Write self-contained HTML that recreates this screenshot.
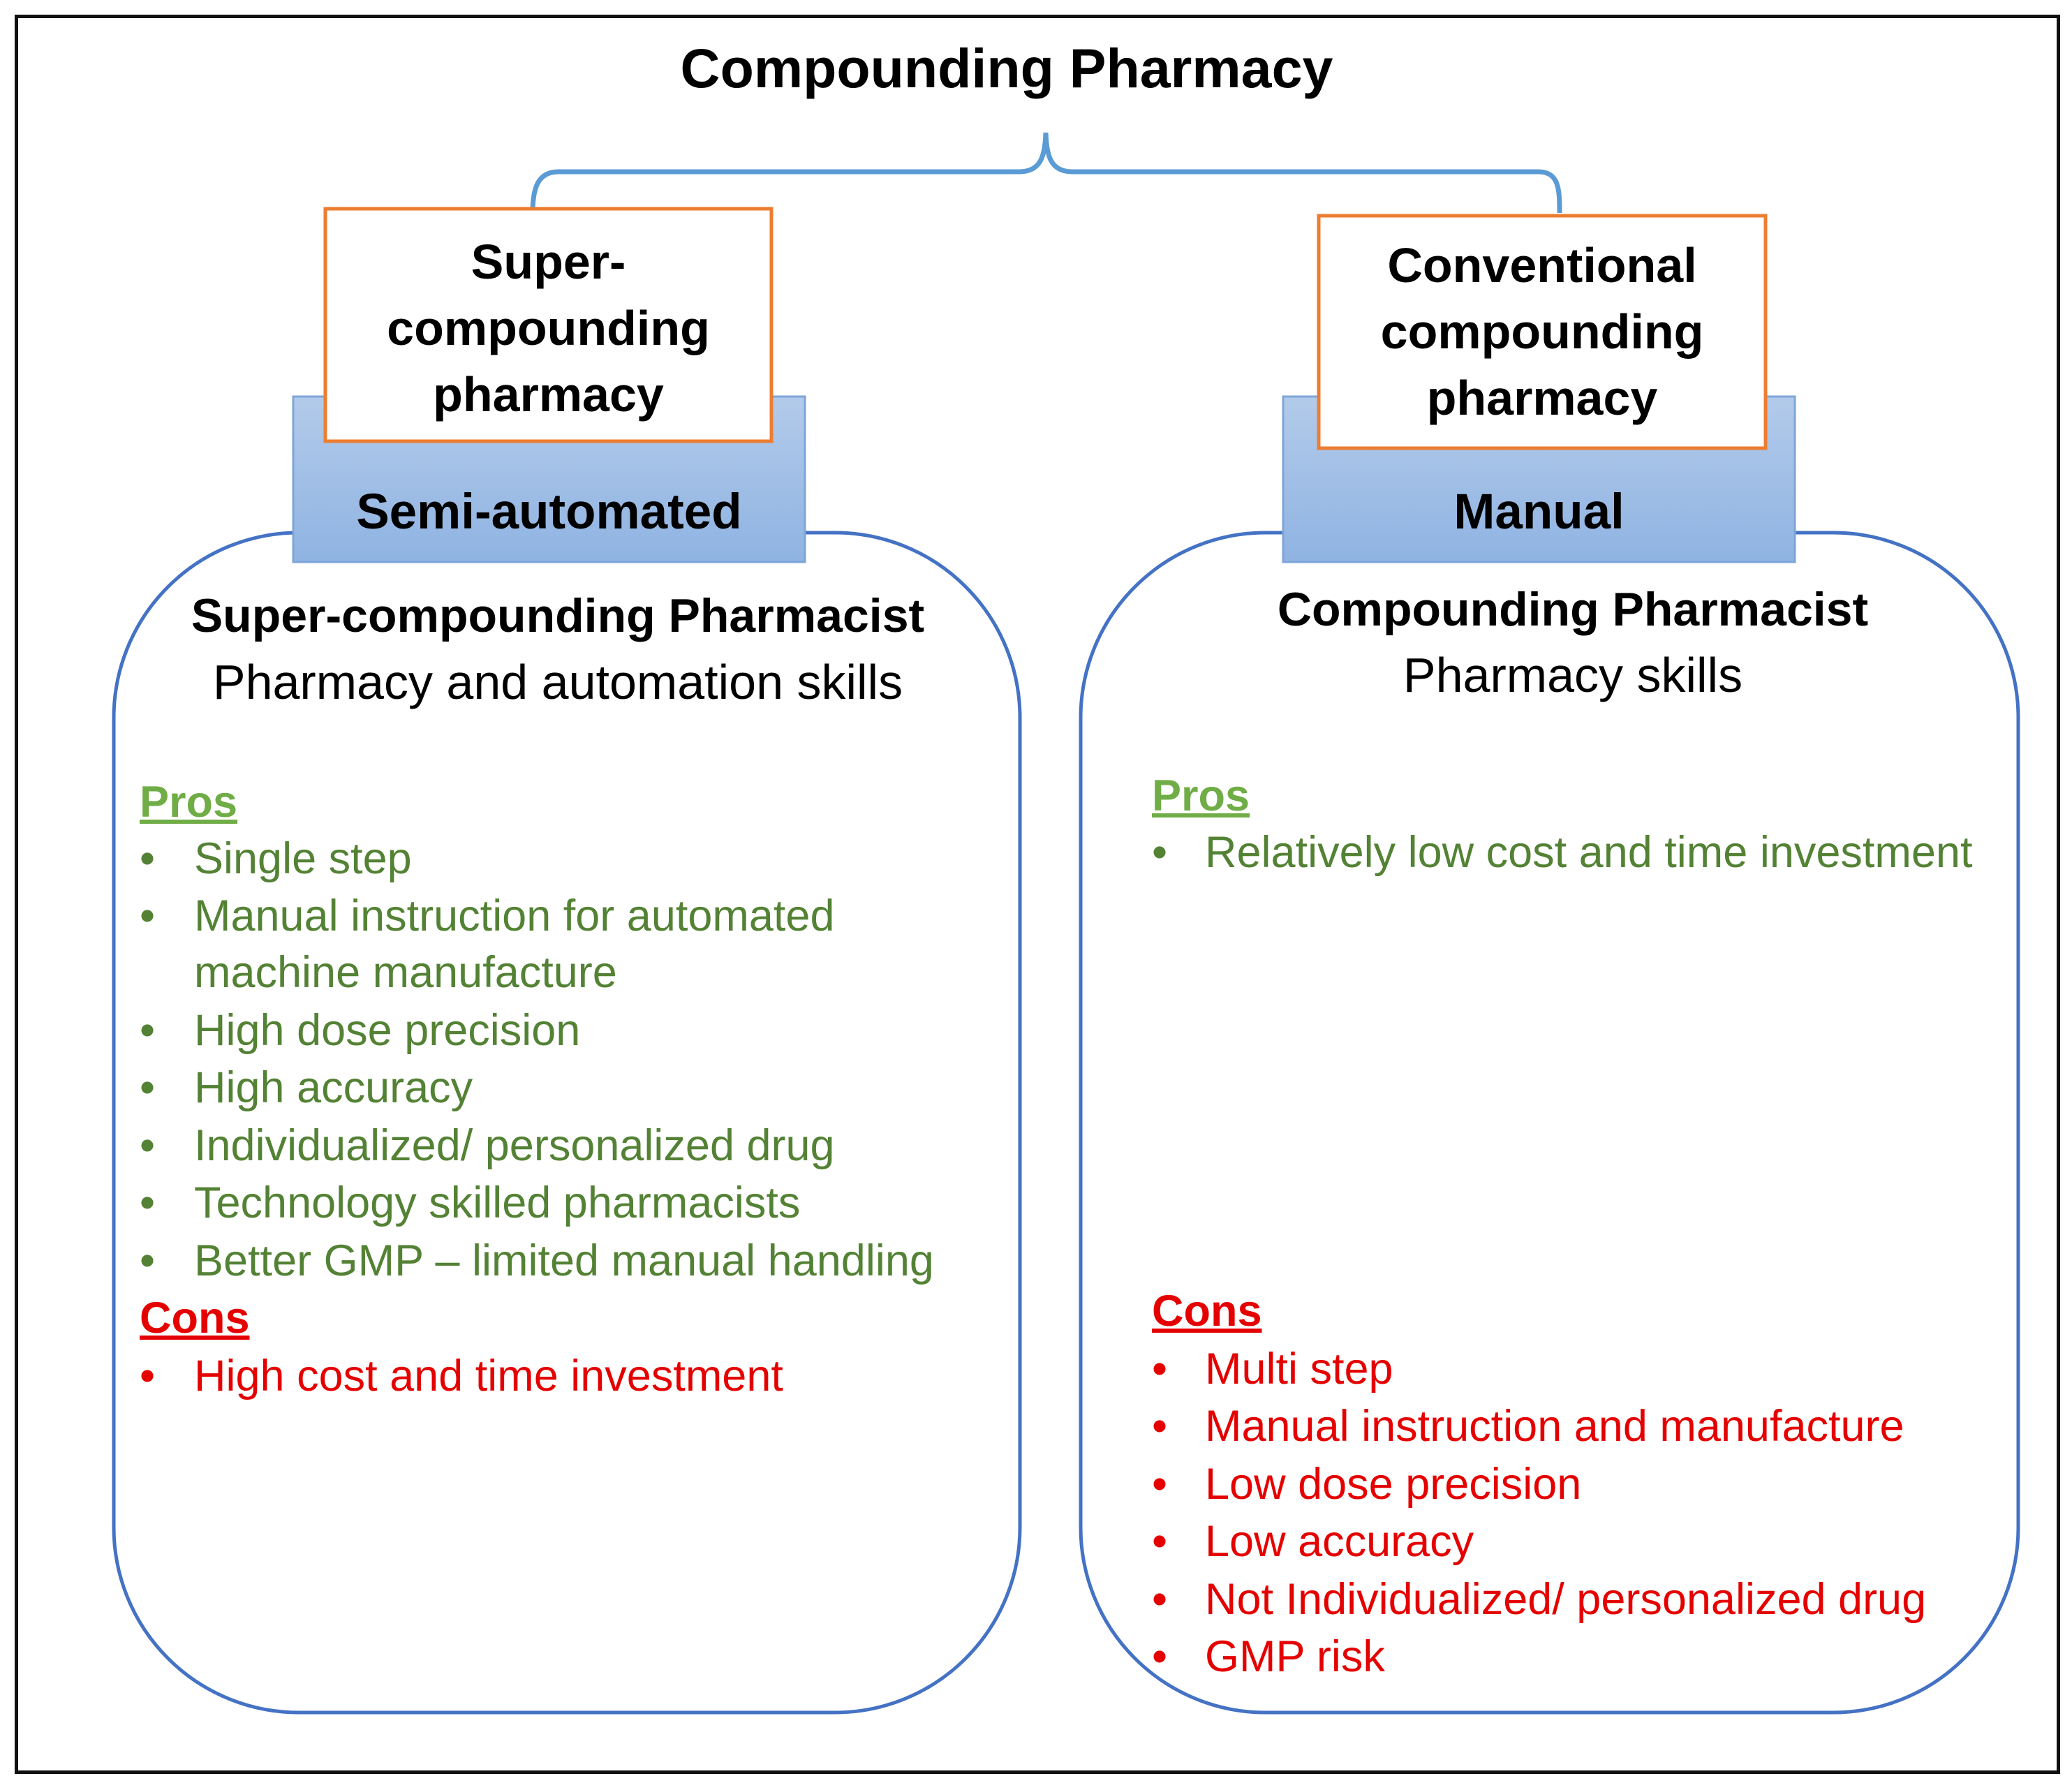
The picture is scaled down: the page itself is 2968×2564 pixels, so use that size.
<!DOCTYPE html>
<html><head><meta charset="utf-8"><style>
html,body{margin:0;padding:0;background:#fff;}
body{width:2968px;height:2564px;position:relative;overflow:hidden;font-family:"Liberation Sans",sans-serif;}
.a{position:absolute;white-space:nowrap;}
.c{text-align:center;}
.b{font-weight:bold;}
.g{color:#548235;}
.r{color:#e50000;}
.it{position:absolute;white-space:nowrap;font-size:63px;line-height:80px;}
</style></head><body>
<div class="a" style="left:21px;top:21px;width:2920px;height:2510px;border:5px solid #111;"></div>
<svg class="a" style="left:0;top:0" width="2968" height="2564">
<path d="M763 305 C763 270 770 246 800 246 L1460 246 C1490 246 1497 225 1498 190 C1499 225 1506 246 1536 246 L2203 246 C2233 246 2234 270 2234 305" fill="none" stroke="#5b9bd5" stroke-width="7"/>
<rect x="163" y="763" width="1298" height="1690" rx="265" ry="265" fill="#fff" stroke="#4472c4" stroke-width="5"/>
<rect x="1548" y="763" width="1343" height="1690" rx="265" ry="265" fill="#fff" stroke="#4472c4" stroke-width="5"/>
<defs><linearGradient id="gr" x1="0" y1="0" x2="0" y2="1"><stop offset="0" stop-color="#b3cbea"/><stop offset="1" stop-color="#8fb3e2"/></linearGradient></defs>
<rect x="420" y="568" width="733" height="237" fill="url(#gr)" stroke="#7ea5d8" stroke-width="3"/>
<rect x="1838" y="568" width="733" height="237" fill="url(#gr)" stroke="#7ea5d8" stroke-width="3"/>
<rect x="466" y="299" width="639" height="333" fill="#fff" stroke="#ed7d31" stroke-width="5"/>
<rect x="1889" y="309" width="640" height="333" fill="#fff" stroke="#ed7d31" stroke-width="5"/>
</svg>
<div class="a c b" style="left:942px;width:1000px;top:53px;font-size:79px;line-height:90px;">Compounding Pharmacy</div>

<div class="a c b" style="left:466px;width:639px;top:328px;font-size:70px;line-height:95px;">Super-<br>compounding<br>pharmacy</div>
<div class="a c b" style="left:1889px;width:640px;top:333px;font-size:70px;line-height:95px;">Conventional<br>compounding<br>pharmacy</div>
<div class="a c b" style="left:420px;width:733px;top:694px;font-size:71px;line-height:80px;">Semi-automated</div>
<div class="a c b" style="left:1838px;width:733px;top:694px;font-size:71px;line-height:80px;">Manual</div>

<div class="a c b" style="left:99px;width:1400px;top:842px;font-size:68px;line-height:80px;">Super-compounding Pharmacist</div>
<div class="a c" style="left:99px;width:1400px;top:937px;font-size:70px;line-height:80px;">Pharmacy and automation skills</div>
<div class="a c b" style="left:1553px;width:1400px;top:833px;font-size:68px;line-height:80px;">Compounding Pharmacist</div>
<div class="a c" style="left:1553px;width:1400px;top:927px;font-size:70px;line-height:80px;">Pharmacy skills</div>

<div class="it b" style="left:200px;top:1109px;color:#70ad47;text-decoration:underline;">Pros</div>
<div class="it g" style="left:200px;top:1190px;">•</div><div class="it g" style="left:278px;top:1190px;">Single step</div>
<div class="it g" style="left:200px;top:1272px;">•</div><div class="it g" style="left:278px;top:1272px;">Manual instruction for automated</div>
<div class="it g" style="left:278px;top:1353px;">machine manufacture</div>
<div class="it g" style="left:200px;top:1436px;">•</div><div class="it g" style="left:278px;top:1436px;">High dose precision</div>
<div class="it g" style="left:200px;top:1518px;">•</div><div class="it g" style="left:278px;top:1518px;">High accuracy</div>
<div class="it g" style="left:200px;top:1601px;">•</div><div class="it g" style="left:278px;top:1601px;">Individualized/ personalized drug</div>
<div class="it g" style="left:200px;top:1683px;">•</div><div class="it g" style="left:278px;top:1683px;">Technology skilled pharmacists</div>
<div class="it g" style="left:200px;top:1766px;">•</div><div class="it g" style="left:278px;top:1766px;">Better GMP – limited manual handling</div>
<div class="it b r" style="left:200px;top:1848px;text-decoration:underline;">Cons</div>
<div class="it r" style="left:200px;top:1931px;">•</div><div class="it r" style="left:278px;top:1931px;">High cost and time investment</div>

<div class="it b" style="left:1650px;top:1100px;color:#70ad47;text-decoration:underline;">Pros</div>
<div class="it g" style="left:1650px;top:1181px;">•</div><div class="it g" style="left:1726px;top:1181px;">Relatively low cost and time investment</div>
<div class="it b r" style="left:1650px;top:1838px;text-decoration:underline;">Cons</div>
<div class="it r" style="left:1650px;top:1921px;">•</div><div class="it r" style="left:1726px;top:1921px;">Multi step</div>
<div class="it r" style="left:1650px;top:2003px;">•</div><div class="it r" style="left:1726px;top:2003px;">Manual instruction and manufacture</div>
<div class="it r" style="left:1650px;top:2086px;">•</div><div class="it r" style="left:1726px;top:2086px;">Low dose precision</div>
<div class="it r" style="left:1650px;top:2168px;">•</div><div class="it r" style="left:1726px;top:2168px;">Low accuracy</div>
<div class="it r" style="left:1650px;top:2251px;">•</div><div class="it r" style="left:1726px;top:2251px;">Not Individualized/ personalized drug</div>
<div class="it r" style="left:1650px;top:2333px;">•</div><div class="it r" style="left:1726px;top:2333px;">GMP risk</div>
</body></html>
